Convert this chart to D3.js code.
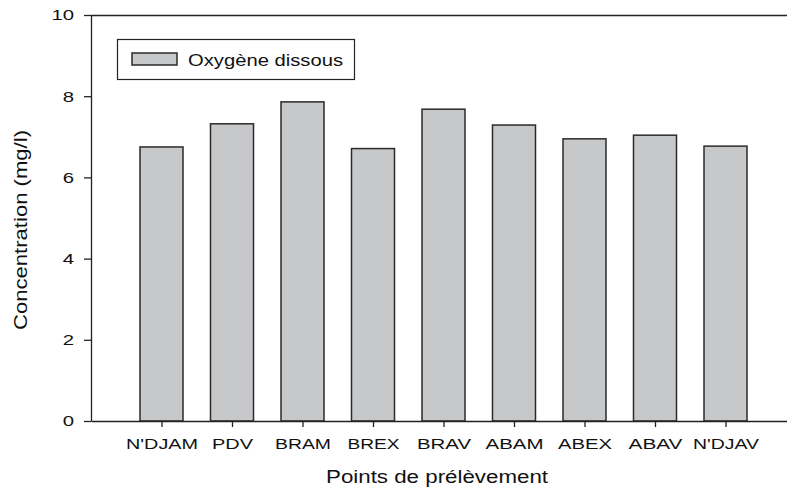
<!DOCTYPE html>
<html>
<head>
<meta charset="utf-8">
<script src="https://cdn.jsdelivr.net/npm/d3@7"></script>
<style>
  html, body { margin: 0; padding: 0; background: #fff; }
  svg { display: block; font-family: "Liberation Sans", Arial, sans-serif; }
</style>
</head>
<body>
<svg id="chart" width="787" height="488"></svg>
<script>
const categories = ["N'DJAM", "PDV", "BRAM", "BREX", "BRAV", "ABAM", "ABEX", "ABAV", "N'DJAV"];
const values = [6.75, 7.32, 7.86, 6.71, 7.68, 7.29, 6.95, 7.04, 6.77];
const yTicks = [0, 2, 4, 6, 8, 10];
const seriesName = "Oxygène dissous";
const xTitle = "Points de prélèvement";
const yTitle = "Concentration (mg/l)";

const svg = d3.select("#chart");
const mLeft = 91, mRight = 796, mTop = 15, mBottom = 421;

const x = d3.scalePoint().domain(categories).range([mLeft, mRight]).padding(1);
const y = d3.scaleLinear().domain([0, 10]).range([mBottom, mTop]);
const barW = 43;

// top frame line
svg.append("line")
  .attr("x1", mLeft).attr("x2", 787).attr("y1", mTop + 0.5).attr("y2", mTop + 0.5)
  .attr("stroke", "#222").attr("stroke-width", 1.3);

// bars
svg.append("g").selectAll("rect").data(values).join("rect")
  .attr("x", (d, i) => x(categories[i]) - barW / 2)
  .attr("width", barW)
  .attr("y", d => y(d))
  .attr("height", d => y(0) - y(d))
  .attr("fill", "#c7c8ca")
  .attr("stroke", "#2a2a2a")
  .attr("stroke-width", 1.5);

// y axis
const yAxis = svg.append("g").attr("transform", `translate(${mLeft},0)`)
  .call(d3.axisLeft(y).tickValues(yTicks).tickSize(7).tickSizeOuter(0).tickPadding(10));
yAxis.select(".domain").attr("stroke", "#222").attr("stroke-width", 1.3);
yAxis.selectAll(".tick line").attr("stroke", "#222").attr("stroke-width", 1.3);
yAxis.selectAll(".tick text")
  .attr("font-size", 15).attr("fill", "#111")
  .attr("font-family", "Liberation Sans, Arial, sans-serif")
  .attr("lengthAdjust", "spacingAndGlyphs")
  .attr("textLength", d => String(d).length * 11.3);

// x axis
const xAxis = svg.append("g").attr("transform", `translate(0,${mBottom})`)
  .call(d3.axisBottom(x).tickSize(6).tickSizeOuter(0).tickPadding(0));
xAxis.select(".domain").attr("stroke", "#222").attr("stroke-width", 1.3);
xAxis.selectAll(".tick line").attr("stroke", "#222").attr("stroke-width", 1.3);
const labelWidths = { "N'DJAM": 72, "PDV": 41, "BRAM": 56, "BREX": 52, "BRAV": 54, "ABAM": 58, "ABEX": 54, "ABAV": 54, "N'DJAV": 66 };
xAxis.selectAll(".tick text")
  .attr("font-size", 15).attr("fill", "#111")
  .attr("font-family", "Liberation Sans, Arial, sans-serif")
  .attr("dy", null)
  .attr("y", 28)
  .attr("lengthAdjust", "spacingAndGlyphs")
  .attr("textLength", d => labelWidths[d]);

// axis titles
svg.append("text")
  .attr("x", 437).attr("y", 483)
  .attr("text-anchor", "middle")
  .attr("font-size", 18).attr("fill", "#111")
  .attr("lengthAdjust", "spacingAndGlyphs").attr("textLength", 222)
  .text(xTitle);

svg.append("text")
  .attr("transform", "translate(27,230) rotate(-90)")
  .attr("text-anchor", "middle")
  .attr("font-size", 18).attr("fill", "#111")
  .attr("lengthAdjust", "spacingAndGlyphs").attr("textLength", 200)
  .text(yTitle);

// legend
const lg = svg.append("g");
lg.append("rect").attr("x", 117.5).attr("y", 39.5).attr("width", 237).attr("height", 40)
  .attr("fill", "#fff").attr("stroke", "#222").attr("stroke-width", 1.2);
lg.append("rect").attr("x", 132).attr("y", 53).attr("width", 45).attr("height", 12)
  .attr("fill", "#c7c8ca").attr("stroke", "#2a2a2a").attr("stroke-width", 1.5);
lg.append("text").attr("x", 188).attr("y", 66)
  .attr("font-size", 17).attr("fill", "#111")
  .attr("lengthAdjust", "spacingAndGlyphs").attr("textLength", 155)
  .text(seriesName);
</script>
</body>
</html>
